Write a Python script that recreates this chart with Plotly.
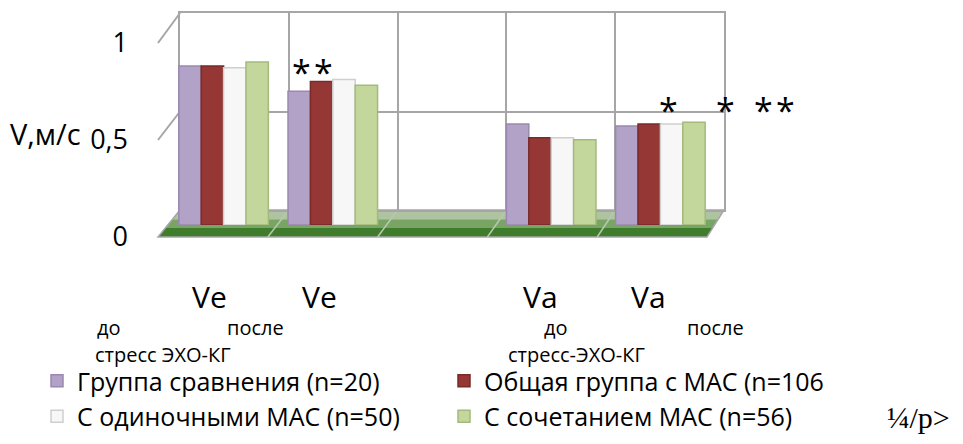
import plotly.graph_objects as go

# The page body keeps its default 8px margin, so the figure is drawn 8px in from the window edge.
WIN_W, WIN_H, OFF = 963, 444, 8
FW, FH = WIN_W - 2 * OFF, WIN_H - 2 * OFF

# ---------------- data ----------------
categories = ["Ve до", "Ve после", " ", "Va до", "Va после"]
series_names = ["Группа сравнения (n=20)", "Общая группа с МАС (n=106",
                "С одиночными МАС (n=50)", "С сочетанием МАС (n=56)"]
grp_compare = [0.82, 0.69, None, 0.52, 0.51]
grp_total = [0.82, 0.74, None, 0.45, 0.52]
grp_single = [0.81, 0.75, None, 0.45, 0.52]
grp_combined = [0.84, 0.72, None, 0.44, 0.53]
y_tick_vals = [0, 0.5, 1]
y_tick_text = ["0", "0,5", "1"]
y_title = "V,м/с"
cat_main_labels = ["Ve", "Ve", "Va", "Va"]
cat_sub_labels = ["до", "после", "до", "после"]
cat_caption_labels = ["стресс ЭХО-КГ", "стресс-ЭХО-КГ"]

# ---------------- styles ----------------
FONT = "Open Sans"
fills = ["#B3A2C7", "#953735", "#F7F7F7", "#C3D69B"]
edges = ["#9A88B0", "#7A2A29", "#CFCFCF", "#A3BA7C"]
GRID = "#A6A6A6"

def px(x):
    return (x - OFF) / FW

def py(y):
    return 1 - (y - OFF) / FH

# planes (window-pixel geometry of the 3D box)
back = dict(l=180, r=724, y0=210, y1=13)
front = dict(l=158, r=707, y0=237, y1=43)
mid = dict(l=169, r=715, y0=225, y1=31)

fig = go.Figure()

# back wall subplot (x / y) – grid only
fig.add_trace(go.Scatter(x=categories, y=[None] * len(categories), mode="markers",
                         showlegend=False, hoverinfo="skip"))

# bars (x2 / y2)
all_series = [grp_compare, grp_total, grp_single, grp_combined]
for name, vals, fc, ec in zip(series_names, all_series, fills, edges):
    fig.add_trace(go.Bar(x=categories, y=vals, name=name, xaxis="x2", yaxis="y2",
                         marker=dict(color=fc, line=dict(color=ec, width=1.5)),
                         hoverinfo="skip"))

# front plane: tick labels only (x3 / y3)
fig.add_trace(go.Scatter(x=[0] * len(y_tick_vals), y=y_tick_vals, mode="none",
                         xaxis="x3", yaxis="y3", showlegend=False, hoverinfo="skip"))

# ---------------- floor & side lines ----------------
def lerp(a, b, t):
    return a + (b - a) * t

def floor_pt(xfrac, depth):
    # depth 0 = front edge, 1 = back edge
    l = lerp(front["l"], back["l"], depth)
    r = lerp(front["r"], back["r"], depth)
    y = lerp(front["y0"], back["y0"], depth)
    return lerp(l, r, xfrac), y

def poly(points):
    return "M " + " L ".join(f"{px(x):.5f},{py(y):.5f}" for x, y in points) + " Z"

shapes = []
bands = [(1.0, 0.66, "#AEC39F"), (0.66, 0.33, "#78A563"), (0.33, 0.0, "#3F7D2D")]
for d0, d1, col in bands:
    pts = [floor_pt(0, d0), floor_pt(1, d0), floor_pt(1, d1), floor_pt(0, d1)]
    shapes.append(dict(type="path", path=poly(pts), xref="paper", yref="paper",
                       fillcolor=col, line=dict(width=0), layer="below"))
pts = [floor_pt(0, 0), floor_pt(1, 0), floor_pt(1, 1), floor_pt(0, 1)]
shapes.append(dict(type="path", path=poly(pts), xref="paper", yref="paper",
                   line=dict(color=GRID, width=1.5), layer="below"))
n = len(categories)
for i in range(1, n):
    x0, y0 = floor_pt(i / n, 1)
    x1, y1 = floor_pt(i / n, 0)
    shapes.append(dict(type="line", xref="paper", yref="paper",
                       x0=px(x0), y0=py(y0), x1=px(x1), y1=py(y1),
                       line=dict(color="#B9C7B0", width=1.5), layer="below"))
for v in y_tick_vals[1:]:
    yf = lerp(front["y0"], front["y1"], v)
    yb = lerp(back["y0"], back["y1"], v)
    shapes.append(dict(type="line", xref="paper", yref="paper",
                       x0=px(front["l"]), y0=py(yf), x1=px(back["l"]), y1=py(yb),
                       line=dict(color=GRID, width=2), layer="below"))

# ---------------- annotations ----------------
ann = []
def txt(s, x, y, size, xanchor="center", yanchor="middle", family=FONT, color="black"):
    ann.append(dict(text=s, x=px(x), y=py(y), xref="paper", yref="paper",
                    showarrow=False, xanchor=xanchor, yanchor=yanchor,
                    font=dict(family=family, size=size, color=color)))

txt(y_title, 8, 134, 29, xanchor="left")
for lab, cx in zip(cat_main_labels, [209, 319, 540, 648]):
    txt(lab, cx, 296, 30)
for lab, cx in zip(cat_sub_labels, [109, 255, 556, 715]):
    txt(lab, cx, 327, 20)
txt(cat_caption_labels[0], 93, 354, 20, xanchor="left")
txt(cat_caption_labels[1], 506, 354, 20, xanchor="left")
for ax_, ay_ in [(301, 72), (323, 72), (668, 110), (725, 110), (763, 110), (785, 110)]:
    txt("*", ax_, ay_, 34)
txt("¼/p>", 885, 436, 30, xanchor="left", yanchor="bottom", family="Liberation Serif")

# ---------------- layout ----------------
axis_off = dict(showgrid=False, zeroline=False, showline=False, showticklabels=False, ticks="")
fig.update_layout(
    width=FW, height=FH,
    margin=dict(l=0, r=0, t=0, b=0, autoexpand=False),
    paper_bgcolor="white", plot_bgcolor="rgba(0,0,0,0)",
    font=dict(family=FONT, size=20, color="black"),
    barmode="group", bargap=0.18, bargroupgap=0.0,
    hovermode=False,
    xaxis=dict(domain=[px(back["l"]), px(back["r"])], type="category",
               categoryorder="array", categoryarray=categories, range=[-0.5, n - 0.5],
               tickson="boundaries", showgrid=True, gridcolor=GRID, gridwidth=2,
               showline=True, mirror=True, linecolor=GRID, linewidth=2,
               showticklabels=False, ticks="", zeroline=False),
    yaxis=dict(domain=[py(back["y0"]), py(back["y1"])], range=[0, 1], dtick=0.5,
               showgrid=True, gridcolor=GRID, gridwidth=2, showline=True, mirror=True,
               linecolor=GRID, linewidth=2, showticklabels=False, ticks="", zeroline=False),
    xaxis2=dict(domain=[px(mid["l"]), px(mid["r"])], type="category", anchor="y2",
                categoryorder="array", categoryarray=categories, range=[-0.5, n - 0.5], **axis_off),
    yaxis2=dict(domain=[py(mid["y0"]), py(mid["y1"])], range=[0, 1], anchor="x2", **axis_off),
    xaxis3=dict(domain=[px(129), px(131)], range=[0, 1], anchor="y3", visible=False),
    yaxis3=dict(domain=[py(front["y0"]), py(front["y1"])], range=[0, 1], anchor="x3",
                tickvals=y_tick_vals, ticktext=y_tick_text, showgrid=False, zeroline=False,
                showline=False, ticks="", tickfont=dict(size=27, family=FONT)),
    legend=dict(orientation="h", x=px(37), y=py(358), xanchor="left", yanchor="top",
                entrywidth=362, entrywidthmode="pixels", font=dict(size=25, family=FONT),
                bgcolor="rgba(0,0,0,0)", traceorder="normal", itemclick=False),
    shapes=shapes, annotations=ann,
)

fig.write_html("out.html")
